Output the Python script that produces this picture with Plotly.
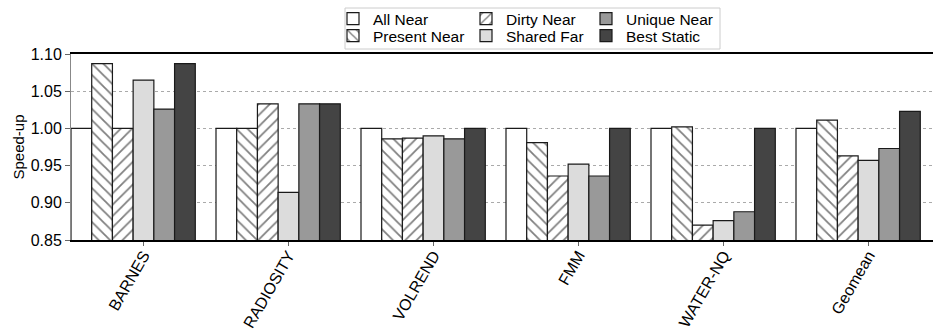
import plotly.graph_objects as go

# Benchmarks and speed-up per placement policy
categories = ["BARNES", "RADIOSITY", "VOLREND", "FMM", "WATER-NQ", "Geomean"]

all_near = [1.000, 1.000, 1.000, 1.000, 1.000, 1.000]
present_near = [1.087, 1.000, 0.986, 0.981, 1.002, 1.011]
dirty_near = [1.000, 1.033, 0.987, 0.936, 0.870, 0.963]
shared_far = [1.065, 0.914, 0.990, 0.952, 0.876, 0.957]
unique_near = [1.026, 1.033, 0.986, 0.936, 0.888, 0.973]
best_static = [1.087, 1.033, 1.000, 1.000, 1.000, 1.023]

y_ticks = [0.85, 0.90, 0.95, 1.00, 1.05, 1.10]

# name, values, fill, hatch, legend row, legend entry width
series = [
    ("All Near", all_near, "white", "", "legend", 88),
    ("Present Near", present_near, "white", "\\", "legend2", 88),
    ("Dirty Near", dirty_near, "white", "/", "legend", 75),
    ("Shared Far", shared_far, "#dcdcdc", "", "legend2", 75),
    ("Unique Near", unique_near, "#999999", "", "legend", 95),
    ("Best Static", best_static, "#444444", "", "legend2", 95),
]

W, H = 933, 331
M_L, M_R, M_T, M_B = 71, 0, 54, 91
plot_w = W - M_L - M_R
plot_h = H - M_T - M_B

slots = len(series) + 1  # six bars plus one empty slot per group
bar_w = 1.0 / slots
xs = list(range(len(categories)))

fig = go.Figure()
for k, (name, vals, color, hatch, leg, lw) in enumerate(series):
    marker = dict(color=color, line=dict(color="#1a1a1a", width=1.2))
    if hatch:
        marker["pattern"] = dict(shape=hatch, fgcolor="#000000", bgcolor="white",
                                 size=8, solidity=0.22)
    fig.add_trace(go.Bar(
        x=xs, y=vals, name=name, offset=k * bar_w, width=bar_w,
        marker=marker, legend=leg, legendwidth=lw,
    ))


def py(px):
    """Pixel row measured from the top of the figure -> paper y."""
    return 1 + (M_T - px) / plot_h


def pxx(px):
    """Pixel column measured from the left of the figure -> paper x."""
    return (px - M_L) / plot_w


# legend frame
fig.add_shape(
    type="rect", xref="paper", yref="paper", layer="below",
    x0=pxx(345), x1=pxx(720), y0=py(49), y1=py(8),
    line=dict(color="#cccccc", width=1), fillcolor="white",
)

legend_common = dict(
    orientation="h", xref="paper", x=pxx(333), xanchor="left",
    yref="paper", yanchor="top",
    bgcolor="rgba(0,0,0,0)", borderwidth=0,
    font=dict(size=15.5), entrywidthmode="pixels",
)

fig.update_layout(
    width=W, height=H,
    margin=dict(l=M_L, r=M_R, t=M_T, b=M_B, autoexpand=False),
    plot_bgcolor="white", paper_bgcolor="white",
    barmode="overlay",
    font=dict(family="Liberation Sans, Arial, sans-serif", size=16, color="#000000"),
    legend=dict(legend_common, y=py(2)),
    legend2=dict(legend_common, y=py(19)),
)

fig.update_xaxes(
    range=[0, plot_w / 145.0],
    tickvals=[i + 0.5 for i in xs], ticktext=categories,
    tickangle=-60, ticks="outside", ticklen=4, tickcolor="#666666",
    ticklabelstandoff=-6,
    showline=True, linecolor="black", linewidth=1.5, mirror=True,
    showgrid=False, zeroline=False, automargin=False,
    tickfont=dict(size=16),
)

fig.update_yaxes(
    range=[0.85, 1.10], tickvals=y_ticks, tickformat=".2f",
    ticks="outside", ticklen=5, tickcolor="#666666",
    showline=True, linecolor="#888888", linewidth=1,
    showgrid=True, gridcolor="#aaaaaa", griddash="dot", gridwidth=1,
    zeroline=False, automargin=False,
    title=dict(text="Speed-up", font=dict(size=15), standoff=2),
    tickfont=dict(size=16),
)

fig.write_html("out.html")
